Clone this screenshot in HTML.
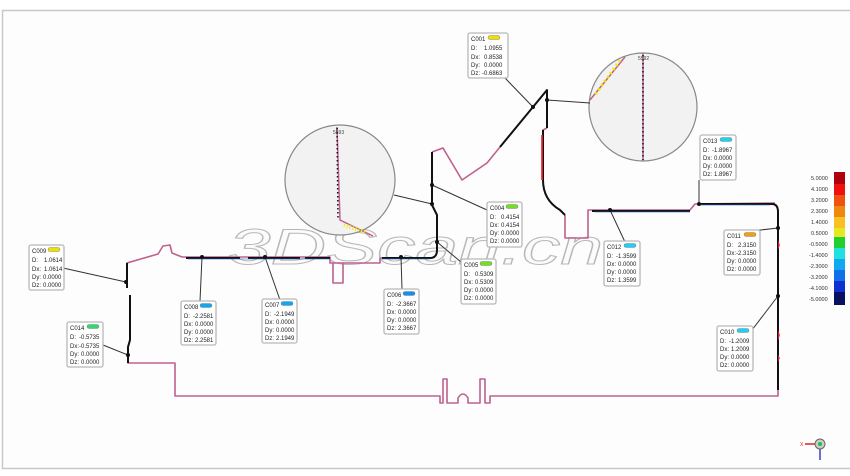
<!DOCTYPE html>
<html><head><meta charset="utf-8"><style>
html,body{margin:0;padding:0;background:#fff}
svg{display:block}
text{font-family:"Liberation Sans",sans-serif}
.bx{fill:#fff;stroke:#b8b8b8;stroke-width:1.3}
.t{font-size:6px;fill:#222}
.ln{stroke:#333;stroke-width:1;fill:none}
</style></head><body>
<svg width="850" height="476" viewBox="0 0 850 476" xmlns="http://www.w3.org/2000/svg">
<rect width="850" height="476" fill="#fff"/>
<rect x="2.5" y="10.5" width="850" height="458" fill="#fdfdfd" stroke="#c8c8c8" stroke-width="1.5"/>
<!-- watermark -->
<text x="228" y="264" font-size="50" font-style="italic" fill="#fbfbfb" stroke="#b8b8b8" stroke-width="1" textLength="375" lengthAdjust="spacingAndGlyphs">3DScan.cn</text>
<!-- main pink path -->
<g fill="none" stroke="#c0608f" stroke-width="1.6" stroke-linejoin="round">
<path d="M127,288 L127,263 L158,254 L163,246 L170,245 L172,253 L182,257 L330,257 L330,263 L380,263 L380,258 L432,258"/>
<path d="M333,263 L333,283 L343,283 L343,263"/>
<path d="M128,356 L128,363 L175,363 L175,396 L440,396 L440,403 L443,403 L443,379 L447,379 L447,403 L458,403 L458,398 Q463,390 468,398 L468,403 L480,403 L480,379 L485,379 L485,403 L490,403 L490,396 L778,396 L778,210"/>
<path d="M432,152 L443,148 L462,180 L487,163 L500,147"/>
<path d="M565,215 L565,238 L588,238 L588,210 L690,210 L695,204 L775,203"/>
<path d="M543,132 L543,130 L547,128"/>
</g>
<!-- black measured segments -->
<g fill="none" stroke="#111" stroke-width="2" stroke-linejoin="round">
<path d="M127,263 L127,288"/>
<path d="M130,295 L130,340 L128,347 L128,363"/>
<path d="M186,258 L240,258 M248,258 L300,258 M305,258 L330,258 M382,258 L430,258 Q437,258 437,250 L437,215 L432,205 L432,152"/>
<path d="M500,147 L547,90 L547,128"/>
<path d="M543,130 L543,180 Q543,200 560,210 L565,215"/>
<path d="M592,211 L690,211 M700,204 L772,204 Q778,204 778,212 L778,390"/>
</g>
<g fill="none" stroke="#2a6fd0" stroke-width="0.8" opacity="0.8">
<path d="M188,259 L330,259 M382,259 L430,259 M595,212 L690,212 M700,205 L770,205"/>
</g>
<g fill="#e23" opacity="0.85">
<path d="M541,135 L543,135 L543,180 L541,180 Z"/>
<path d="M778,240 L780,245 L778,250 Z"/>
<path d="M778,330 L780,335 L778,341 Z"/>
<path d="M778,355 L780,358 L778,362 Z"/>
</g>
<!-- circles -->
<circle cx="340" cy="180" r="55" fill="#f2f2f2" stroke="#888" stroke-width="1.2"/>
<path d="M337,127 L340,220 L373,236" fill="none" stroke="#c0608f" stroke-width="1.5"/>
<path d="M337,128 L338,220" stroke="#111" stroke-width="1.5" stroke-dasharray="1.5 2.5" fill="none"/>
<path d="M344,225 L365,232" stroke="#ee0" stroke-width="4" stroke-dasharray="1 2"/>
<text x="333" y="134" font-size="5" fill="#444">5593</text>
<circle cx="643" cy="107" r="54" fill="#f2f2f2" stroke="#888" stroke-width="1.2"/>
<path d="M643,53 L643,161 M625,57 L590,100" fill="none" stroke="#c0608f" stroke-width="1.5"/>
<path d="M643,55 L643,160" stroke="#111" stroke-width="1.5" stroke-dasharray="1.5 2.5" fill="none"/>
<path d="M620,60 L595,95" stroke="#ee0" stroke-width="3" stroke-dasharray="2 3"/>
<text x="638" y="60" font-size="5" fill="#444">5592</text>
<!-- connectors -->
<g class="ln">
<path d="M505,78 L533,107 M547,100 L590,103 M63,268 L126,282 M103,345 L128,355 M200,301 L202,257 M280,300 L265,257 M402,289 L401,257 M487,210 L432,185 M394,195 L432,204 M461,262 L437,242 M625,242 L610,210 M699,180 L699,204 M725,234 L778,228 M752,330 L778,296"/>
</g>
<g fill="#111">
<circle cx="533" cy="107" r="2"/><circle cx="547" cy="100" r="2"/><circle cx="126" cy="282" r="2"/><circle cx="128" cy="355" r="2"/>
<circle cx="202" cy="257" r="2"/><circle cx="265" cy="257" r="2"/><circle cx="401" cy="257" r="2"/><circle cx="432" cy="185" r="2"/>
<circle cx="432" cy="204" r="2"/><circle cx="437" cy="242" r="2"/><circle cx="610" cy="210" r="2"/><circle cx="699" cy="204" r="2"/>
<circle cx="778" cy="228" r="2"/><circle cx="778" cy="296" r="2"/>
</g>
<!-- callout boxes -->
<g id="boxes">
<g transform="translate(468,33)"><rect class="bx" width="40" height="45" rx="2"/><rect x="20" y="2.5" width="12" height="4" rx="2" fill="#f0e000" stroke="#888" stroke-width="0.5"/><text class="t" x="3" y="8">C001</text><text class="t" x="3" y="17">D:</text><text class="t" x="16" y="17">1.0955</text><text class="t" x="3" y="26">Dx:</text><text class="t" x="16" y="26">0.8538</text><text class="t" x="3" y="34">Dy:</text><text class="t" x="16" y="34">0.0000</text><text class="t" x="3" y="42">Dz:</text><text class="t" x="14" y="42">-0.6863</text></g>
<g transform="translate(29,245)"><rect class="bx" width="35" height="45" rx="2"/><rect x="19" y="2.5" width="12" height="4" rx="2" fill="#f0e000" stroke="#888" stroke-width="0.5"/><text class="t" x="3" y="8">C009</text><text class="t" x="3" y="17">D:</text><text class="t" x="15" y="17">1.0614</text><text class="t" x="3" y="26">Dx:</text><text class="t" x="15" y="26">1.0614</text><text class="t" x="3" y="34">Dy:</text><text class="t" x="14" y="34">0.0000</text><text class="t" x="3" y="42">Dz:</text><text class="t" x="14" y="42">0.0000</text></g>
<g transform="translate(67,322)"><rect class="bx" width="36" height="45" rx="2"/><rect x="20" y="2.5" width="12" height="4" rx="2" fill="#30d870" stroke="#888" stroke-width="0.5"/><text class="t" x="3" y="8">C014</text><text class="t" x="3" y="17">D:</text><text class="t" x="12" y="17">-0.5735</text><text class="t" x="3" y="26">Dx:</text><text class="t" x="12" y="26">-0.5735</text><text class="t" x="3" y="34">Dy:</text><text class="t" x="14" y="34">0.0000</text><text class="t" x="3" y="42">Dz:</text><text class="t" x="14" y="42">0.0000</text></g>
<g transform="translate(181,301)"><rect class="bx" width="35" height="44" rx="2"/><rect x="19" y="2.5" width="12" height="4" rx="2" fill="#10a8f0" stroke="#888" stroke-width="0.5"/><text class="t" x="3" y="8">C008</text><text class="t" x="3" y="17">D:</text><text class="t" x="12" y="17">-2.2581</text><text class="t" x="3" y="25">Dx:</text><text class="t" x="14" y="25">0.0000</text><text class="t" x="3" y="33">Dy:</text><text class="t" x="14" y="33">0.0000</text><text class="t" x="3" y="41">Dz:</text><text class="t" x="14" y="41">2.2581</text></g>
<g transform="translate(262,299)"><rect class="bx" width="35" height="44" rx="2"/><rect x="19" y="2.5" width="12" height="4" rx="2" fill="#10a8f0" stroke="#888" stroke-width="0.5"/><text class="t" x="3" y="8">C007</text><text class="t" x="3" y="17">D:</text><text class="t" x="12" y="17">-2.1949</text><text class="t" x="3" y="25">Dx:</text><text class="t" x="14" y="25">0.0000</text><text class="t" x="3" y="33">Dy:</text><text class="t" x="14" y="33">0.0000</text><text class="t" x="3" y="41">Dz:</text><text class="t" x="14" y="41">2.1949</text></g>
<g transform="translate(384,289)"><rect class="bx" width="35" height="45" rx="2"/><rect x="19" y="2.5" width="12" height="4" rx="2" fill="#1090f0" stroke="#888" stroke-width="0.5"/><text class="t" x="3" y="8">C006</text><text class="t" x="3" y="17">D:</text><text class="t" x="12" y="17">-2.3667</text><text class="t" x="3" y="25">Dx:</text><text class="t" x="14" y="25">0.0000</text><text class="t" x="3" y="33">Dy:</text><text class="t" x="14" y="33">0.0000</text><text class="t" x="3" y="41">Dz:</text><text class="t" x="14" y="41">2.3667</text></g>
<g transform="translate(487,202)"><rect class="bx" width="35" height="45" rx="2"/><rect x="19" y="2.5" width="12" height="4" rx="2" fill="#70e020" stroke="#888" stroke-width="0.5"/><text class="t" x="3" y="8">C004</text><text class="t" x="3" y="17">D:</text><text class="t" x="14" y="17">0.4154</text><text class="t" x="3" y="25">Dx:</text><text class="t" x="14" y="25">0.4154</text><text class="t" x="3" y="33">Dy:</text><text class="t" x="14" y="33">0.0000</text><text class="t" x="3" y="41">Dz:</text><text class="t" x="14" y="41">0.0000</text></g>
<g transform="translate(461,259)"><rect class="bx" width="35" height="45" rx="2"/><rect x="19" y="2.5" width="12" height="4" rx="2" fill="#70e020" stroke="#888" stroke-width="0.5"/><text class="t" x="3" y="8">C005</text><text class="t" x="3" y="17">D:</text><text class="t" x="14" y="17">0.5309</text><text class="t" x="3" y="25">Dx:</text><text class="t" x="14" y="25">0.5309</text><text class="t" x="3" y="33">Dy:</text><text class="t" x="14" y="33">0.0000</text><text class="t" x="3" y="41">Dz:</text><text class="t" x="14" y="41">0.0000</text></g>
<g transform="translate(604,241)"><rect class="bx" width="36" height="45" rx="2"/><rect x="20" y="2.5" width="12" height="4" rx="2" fill="#20d0f0" stroke="#888" stroke-width="0.5"/><text class="t" x="3" y="8">C012</text><text class="t" x="3" y="17">D:</text><text class="t" x="12" y="17">-1.3599</text><text class="t" x="3" y="25">Dx:</text><text class="t" x="14" y="25">0.0000</text><text class="t" x="3" y="33">Dy:</text><text class="t" x="14" y="33">0.0000</text><text class="t" x="3" y="41">Dz:</text><text class="t" x="14" y="41">1.3599</text></g>
<g transform="translate(700,135)"><rect class="bx" width="36" height="45" rx="2"/><rect x="20" y="2.5" width="12" height="4" rx="2" fill="#20d0f0" stroke="#888" stroke-width="0.5"/><text class="t" x="3" y="8">C013</text><text class="t" x="3" y="17">D:</text><text class="t" x="12" y="17">-1.8967</text><text class="t" x="3" y="25">Dx:</text><text class="t" x="14" y="25">0.0000</text><text class="t" x="3" y="33">Dy:</text><text class="t" x="14" y="33">0.0000</text><text class="t" x="3" y="41">Dz:</text><text class="t" x="14" y="41">1.8967</text></g>
<g transform="translate(724,230)"><rect class="bx" width="36" height="45" rx="2"/><rect x="20" y="2.5" width="12" height="4" rx="2" fill="#f0a010" stroke="#888" stroke-width="0.5"/><text class="t" x="3" y="8">C011</text><text class="t" x="3" y="17">D:</text><text class="t" x="14" y="17">2.3150</text><text class="t" x="3" y="25">Dx:</text><text class="t" x="12" y="25">-2.3150</text><text class="t" x="3" y="33">Dy:</text><text class="t" x="14" y="33">0.0000</text><text class="t" x="3" y="41">Dz:</text><text class="t" x="14" y="41">0.0000</text></g>
<g transform="translate(717,326)"><rect class="bx" width="36" height="45" rx="2"/><rect x="20" y="2.5" width="12" height="4" rx="2" fill="#20d0f0" stroke="#888" stroke-width="0.5"/><text class="t" x="3" y="8">C010</text><text class="t" x="3" y="17">D:</text><text class="t" x="12" y="17">-1.2009</text><text class="t" x="3" y="25">Dx:</text><text class="t" x="14" y="25">1.2009</text><text class="t" x="3" y="33">Dy:</text><text class="t" x="14" y="33">0.0000</text><text class="t" x="3" y="41">Dz:</text><text class="t" x="14" y="41">0.0000</text></g>
</g>
<!-- color bar -->
<g>
<rect x="834" y="172" width="11" height="12" fill="#b00010"/>
<rect x="834" y="184" width="11" height="11" fill="#f01010"/>
<rect x="834" y="195" width="11" height="11" fill="#f05010"/>
<rect x="834" y="206" width="11" height="11" fill="#f08810"/>
<rect x="834" y="217" width="11" height="11" fill="#f8c020"/>
<rect x="834" y="228" width="11" height="9" fill="#e8e820"/>
<rect x="834" y="237" width="11" height="11" fill="#20d030"/>
<rect x="834" y="248" width="11" height="11" fill="#20e0e0"/>
<rect x="834" y="259" width="11" height="11" fill="#10a8f0"/>
<rect x="834" y="270" width="11" height="11" fill="#1070e8"/>
<rect x="834" y="281" width="11" height="11" fill="#1030d0"/>
<rect x="834" y="292" width="11" height="13" fill="#0a1060"/>
<g font-size="5.5" fill="#333">
<text x="811" y="180">5.0000</text><text x="811" y="191">4.1000</text><text x="811" y="202">3.2000</text><text x="811" y="213">2.3000</text><text x="811" y="224">1.4000</text><text x="811" y="235">0.5000</text><text x="809" y="246">-0.5000</text><text x="809" y="257">-1.4000</text><text x="809" y="268">-2.3000</text><text x="809" y="279">-3.2000</text><text x="809" y="290">-4.1000</text><text x="809" y="301">-5.0000</text>
</g>
</g>
<!-- compass -->
<g>
<line x1="805" y1="444" x2="816" y2="444" stroke="#e02020" stroke-width="1.5"/>
<text x="800" y="446" font-size="5" fill="#e02020">X</text>
<line x1="820" y1="448" x2="820" y2="460" stroke="#3040d0" stroke-width="1.5"/>
<circle cx="820" cy="444" r="5" fill="#ccc" stroke="#666" stroke-width="1"/>
<circle cx="820" cy="444" r="2" fill="#20c040"/>
</g>
</svg>
</body></html>
